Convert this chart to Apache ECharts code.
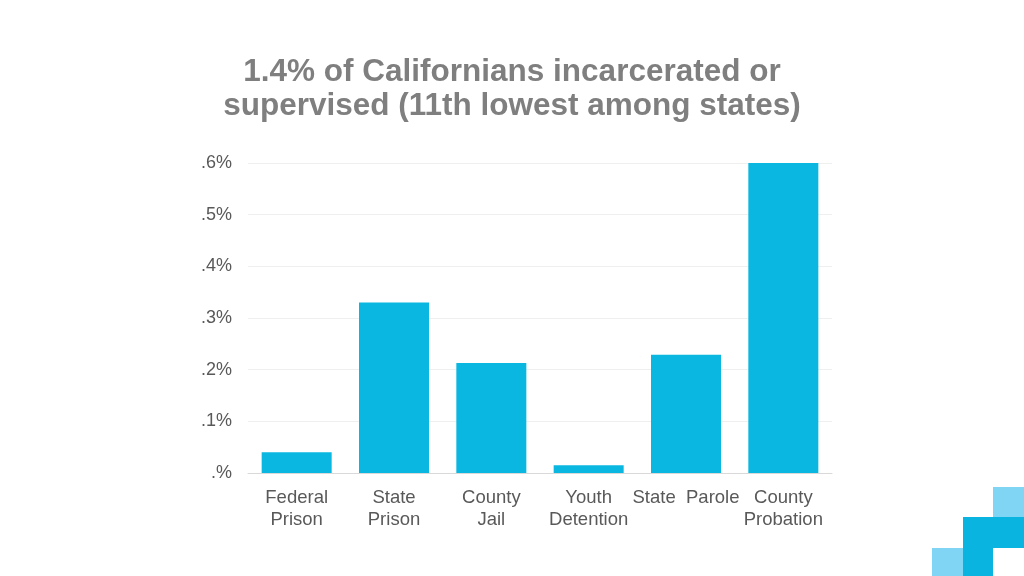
<!DOCTYPE html>
<html>
<head>
<meta charset="utf-8">
<style>
html,body{margin:0;padding:0;background:#fff;}
#chart{width:1024px;height:576px;}
</style>
<script src="https://cdn.jsdelivr.net/npm/echarts@6/dist/echarts.min.js"></script>
</head>
<body>
<div id="chart"></div>
<script>
const categories = ['Federal\nPrison', 'State\nPrison', 'County\nJail', 'Youth\nDetention', 'State  Parole', 'County\nProbation'];
const values = [0.04, 0.33, 0.213, 0.015, 0.229, 0.60];
const yTickLabels = ['.%', '.1%', '.2%', '.3%', '.4%', '.5%', '.6%'];
const titleText = '1.4% of Californians incarcerated or\nsupervised (11th lowest among states)';

const chart = echarts.init(document.getElementById('chart'));
chart.setOption({
  animation: false,
  backgroundColor: '#ffffff',
  title: {
    text: titleText,
    left: 'center',
    top: 50,
    textStyle: {
      fontFamily: 'Liberation Sans',
      fontSize: 31.5,
      fontWeight: 'bold',
      color: '#7f7f7f',
      lineHeight: 34
    }
  },
  grid: { left: 248, right: 192, top: 163, bottom: 103 },
  xAxis: {
    type: 'category',
    data: categories,
    axisLine: { lineStyle: { color: '#d9d9d9' } },
    axisTick: { show: false },
    axisLabel: {
      fontFamily: 'Liberation Sans',
      fontSize: 18.5,
      color: '#595959',
      lineHeight: 22,
      margin: 14,
      interval: 0
    }
  },
  yAxis: {
    type: 'value',
    min: 0,
    max: 0.6,
    interval: 0.1,
    axisLine: { show: false },
    axisTick: { show: false },
    splitLine: { lineStyle: { color: '#efefef' } },
    axisLabel: {
      fontFamily: 'Liberation Sans',
      fontSize: 18,
      color: '#595959',
      margin: 16,
      formatter: function (v) { return yTickLabels[Math.round(v * 10)]; }
    }
  },
  series: [{
    type: 'bar',
    data: values,
    barWidth: 70,
    itemStyle: { color: '#0ab7e0' }
  }],
  graphic: [
    { type: 'rect', shape: { x: 993, y: 487, width: 31, height: 31 }, style: { fill: '#80d5f4' } },
    { type: 'rect', shape: { x: 963, y: 517, width: 61, height: 31 }, style: { fill: '#0ab4e0' } },
    { type: 'rect', shape: { x: 963, y: 547, width: 30, height: 29 }, style: { fill: '#0ab4e0' } },
    { type: 'rect', shape: { x: 932, y: 548, width: 31, height: 28 }, style: { fill: '#80d5f4' } }
  ]
});
</script>
</body>
</html>
